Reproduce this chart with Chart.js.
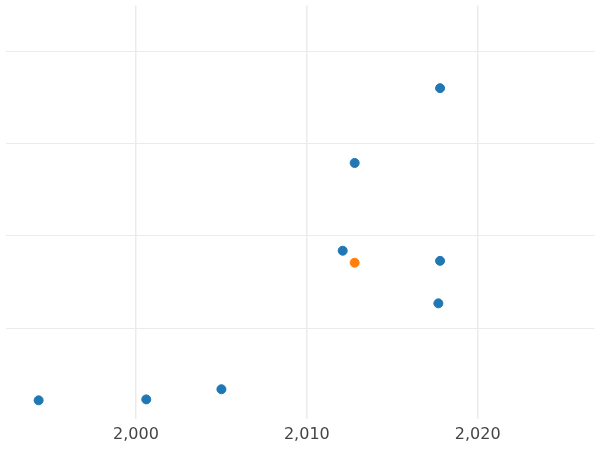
<!DOCTYPE html>
<html>
<head>
<meta charset="utf-8">
<script src="https://cdn.jsdelivr.net/npm/chart.js@4"></script>
<style>
  html, body { margin: 0; padding: 0; background: #fff; }
  #wrap { width: 600px; height: 450px; }
</style>
</head>
<body>
<div id="wrap"><canvas id="chart"></canvas></div>
<script>
// values
const blueX = [1994.3, 2000.6, 2005.0, 2012.1, 2012.8, 2017.8, 2017.7, 2017.8];
const blueY = [0.22, 0.23, 0.34, 1.84, 2.79, 1.73, 1.27, 3.60];
const orangeX = [2012.8];
const orangeY = [1.71];
const xTicks = [2000, 2010, 2020];
const yTicks = [1, 2, 3, 4];

const pts = (xs, ys) => xs.map((x, i) => ({ x, y: ys[i] }));

new Chart(document.getElementById('chart'), {
  type: 'scatter',
  data: {
    datasets: [
      { data: pts(blueX, blueY), backgroundColor: '#1f77b4', borderColor: '#1f77b4', pointRadius: 4.5 },
      { data: pts(orangeX, orangeY), backgroundColor: '#ff7f0e', borderColor: '#ff7f0e', pointRadius: 4.5 },
    ],
  },
  options: {
    responsive: true,
    maintainAspectRatio: false,
    animation: false,
    layout: { padding: 0 },
    plugins: { legend: { display: false }, tooltip: { enabled: false } },
    scales: {
      x: {
        type: 'linear', min: 1992.36, max: 2026.84,
        afterBuildTicks: s => { s.ticks = xTicks.map(v => ({ value: v })); },
        grid: { color: '#ebebeb', lineWidth: 1.5, drawTicks: false },
        border: { display: false },
        ticks: { color: '#444', padding: 6, font: { family: 'DejaVu Sans', size: 16 } },
      },
      y: {
        min: 0.02, max: 4.495,
        afterBuildTicks: s => { s.ticks = yTicks.map(v => ({ value: v })); },
        grid: { color: '#ebebeb', lineWidth: 1, drawTicks: false },
        border: { display: false },
        ticks: { display: false },
      },
    },
  },
});
</script>
</body>
</html>
